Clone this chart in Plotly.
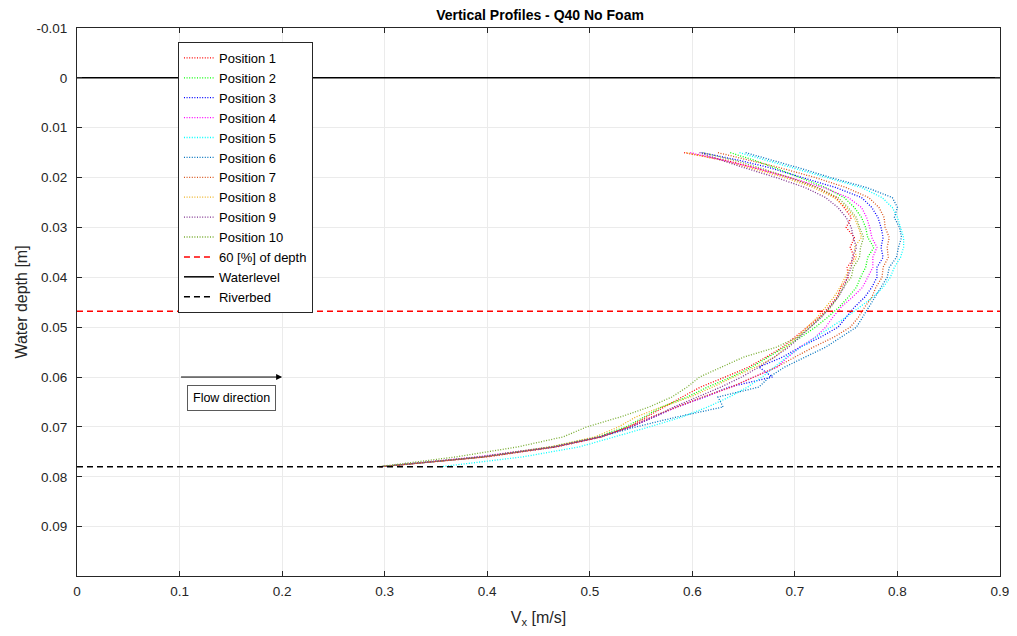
import plotly.graph_objects as go

# ---- data ----
depth = [0.015, 0.0165, 0.018, 0.020, 0.022, 0.024, 0.026, 0.028, 0.030, 0.032, 0.034,
         0.036, 0.038, 0.040, 0.042, 0.044, 0.046, 0.048, 0.050, 0.052, 0.054, 0.056,
         0.058, 0.060, 0.062, 0.064, 0.066, 0.068, 0.070, 0.072, 0.074, 0.076, 0.078]

pos1 = [0.592, 0.632, 0.660, 0.695, 0.722, 0.740, 0.748, 0.755, 0.750, 0.758, 0.754,
        0.758, 0.751, 0.752, 0.745, 0.741, 0.733, 0.724, 0.712, 0.700, 0.688, 0.672,
        0.655, 0.632, 0.608, 0.590, 0.573, 0.556, 0.538, 0.512, 0.468, 0.400, 0.295]
pos2 = [0.637, 0.660, 0.680, 0.705, 0.730, 0.748, 0.758, 0.765, 0.769, 0.771, 0.777,
        0.771, 0.769, 0.764, 0.760, 0.752, 0.743, 0.732, 0.720, 0.706, 0.690, 0.675,
        0.658, 0.638, 0.615, 0.595, 0.570, 0.553, 0.535, 0.508, 0.462, 0.395, 0.295]
pos3 = [0.609, 0.645, 0.675, 0.707, 0.740, 0.765, 0.775, 0.781, 0.784, 0.786, 0.784,
        0.786, 0.780, 0.780, 0.775, 0.768, 0.758, 0.750, 0.742, 0.725, 0.705, 0.688,
        0.665, 0.678, 0.636, 0.612, 0.585, 0.562, 0.540, 0.510, 0.465, 0.395, 0.295]
pos4 = [0.598, 0.630, 0.660, 0.695, 0.728, 0.752, 0.765, 0.770, 0.773, 0.775, 0.780,
        0.776, 0.776, 0.771, 0.766, 0.756, 0.745, 0.737, 0.730, 0.720, 0.705, 0.693,
        0.683, 0.660, 0.638, 0.612, 0.585, 0.562, 0.540, 0.510, 0.463, 0.390, 0.295]
pos5 = [0.646, 0.672, 0.698, 0.733, 0.765, 0.785, 0.795, 0.800, 0.803, 0.806, 0.806,
        0.803, 0.797, 0.793, 0.786, 0.776, 0.763, 0.750, 0.735, 0.720, 0.706, 0.692,
        0.680, 0.668, 0.654, 0.636, 0.615, 0.590, 0.558, 0.525, 0.490, 0.435, 0.354]
pos6 = [0.652, 0.678, 0.703, 0.735, 0.770, 0.795, 0.800, 0.797, 0.802, 0.804, 0.801,
        0.799, 0.792, 0.790, 0.784, 0.778, 0.772, 0.766, 0.760, 0.745, 0.730, 0.710,
        0.690, 0.675, 0.665, 0.625, 0.630, 0.585, 0.545, 0.510, 0.465, 0.395, 0.295]
pos7 = [0.625, 0.655, 0.685, 0.720, 0.750, 0.772, 0.782, 0.787, 0.788, 0.792, 0.790,
        0.791, 0.786, 0.785, 0.779, 0.775, 0.768, 0.762, 0.754, 0.738, 0.718, 0.700,
        0.682, 0.660, 0.638, 0.610, 0.585, 0.560, 0.538, 0.510, 0.465, 0.398, 0.295]
pos8 = [0.594, 0.628, 0.655, 0.690, 0.718, 0.738, 0.750, 0.758, 0.762, 0.765, 0.758,
        0.760, 0.754, 0.749, 0.744, 0.738, 0.730, 0.722, 0.712, 0.702, 0.692, 0.680,
        0.662, 0.640, 0.620, 0.598, 0.570, 0.545, 0.528, 0.505, 0.462, 0.395, 0.295]
pos9 = [0.607, 0.628, 0.650, 0.682, 0.710, 0.730, 0.742, 0.750, 0.755, 0.757, 0.760,
        0.756, 0.755, 0.751, 0.748, 0.742, 0.734, 0.726, 0.715, 0.705, 0.694, 0.680,
        0.665, 0.648, 0.628, 0.605, 0.582, 0.563, 0.540, 0.510, 0.465, 0.395, 0.295]
pos10 = [0.610, 0.640, 0.665, 0.695, 0.722, 0.742, 0.752, 0.760, 0.763, 0.767, 0.764,
         0.763, 0.757, 0.755, 0.747, 0.742, 0.735, 0.725, 0.715, 0.703, 0.682, 0.650,
         0.628, 0.607, 0.595, 0.580, 0.558, 0.530, 0.497, 0.474, 0.430, 0.370, 0.293]

series = [pos1, pos2, pos3, pos4, pos5, pos6, pos7, pos8, pos9, pos10]
names = ["Position %d" % (i + 1) for i in range(10)]
colors = ["#FF0000", "#00FF00", "#0000FF", "#FF00FF", "#00FFFF",
          "#0072BD", "#D95319", "#EDB120", "#7E2F8E", "#77AC30"]

x_line = [0, 0.9]
waterlevel = 0.0
riverbed = 0.078
sixty_pct = 0.6 * riverbed

x_ticks = [0, 0.1, 0.2, 0.3, 0.4, 0.5, 0.6, 0.7, 0.8, 0.9]
x_ticktext = ["0", "0.1", "0.2", "0.3", "0.4", "0.5", "0.6", "0.7", "0.8", "0.9"]
y_ticks = [-0.01, 0, 0.01, 0.02, 0.03, 0.04, 0.05, 0.06, 0.07, 0.08, 0.09]
y_ticktext = ["-0.01", "0", "0.01", "0.02", "0.03", "0.04", "0.05", "0.06", "0.07", "0.08", "0.09"]

flow_start = [0.1, 0.06]
flow_end = [0.2, 0.06]

# ---- figure ----
fig = go.Figure()
for s, n, c in zip(series, names, colors):
    fig.add_trace(go.Scatter(x=s, y=depth, mode="lines", name=n,
                             line=dict(color=c, width=1.3, dash="1px,1.6px")))

fig.add_trace(go.Scatter(x=x_line, y=[sixty_pct, sixty_pct], mode="lines",
                         name="60 [%] of depth",
                         line=dict(color="#FF0000", width=1.5, dash="6px,4px")))
fig.add_trace(go.Scatter(x=x_line, y=[waterlevel, waterlevel], mode="lines",
                         name="Waterlevel", line=dict(color="#000000", width=1.5)))
fig.add_trace(go.Scatter(x=x_line, y=[riverbed, riverbed], mode="lines",
                         name="Riverbed",
                         line=dict(color="#000000", width=1.5, dash="6px,4px")))

fig.add_annotation(x=flow_end[0], y=flow_end[1], ax=flow_start[0], ay=flow_start[1],
                   xref="x", yref="y", axref="x", ayref="y", text="",
                   showarrow=True, arrowhead=2, arrowsize=1.2, arrowwidth=1,
                   arrowcolor="#000000")
fig.add_annotation(x=0.151, y=0.0643, xref="x", yref="y", text="Flow direction",
                   showarrow=False, font=dict(family="Liberation Sans, Arial", size=12.5, color="#000000"),
                   bordercolor="#5a5a5a", borderwidth=1, borderpad=5, bgcolor="white")

axis_font = dict(family="Liberation Sans, Arial", size=13.5, color="#262626")
# the page body has an 8px margin, so the figure is sized to fit inside the window
fig.update_layout(
    width=1001, height=620,
    margin=dict(l=69, r=9, t=20, b=52, autoexpand=False),
    paper_bgcolor="white", plot_bgcolor="white",
    title=dict(text="<b>Vertical Profiles - Q40 No Foam</b>", x=0.5315, xanchor="center",
               y=0.9885, yanchor="middle", yref="container",
               font=dict(family="Liberation Sans, Arial", size=14, color="#000000")),
    font=axis_font,
    showlegend=True,
    legend=dict(x=0.1094, y=0.9745, xanchor="left", yanchor="top",
                bgcolor="white", bordercolor="#262626", borderwidth=1,
                font=dict(family="Liberation Sans, Arial", size=13, color="#000000"),
                itemwidth=30, tracegroupgap=0),
    xaxis=dict(range=[0, 0.9], tickvals=x_ticks, ticktext=x_ticktext, automargin=False,
               showgrid=True, gridcolor="#ebebeb", gridwidth=1,
               showline=True, linecolor="#262626", linewidth=1, mirror="allticks",
               ticks="inside", ticklen=5, tickcolor="#262626", zeroline=False,
               ticklabelstandoff=3, ticklabeloverflow="allow",
               title=dict(text="V<sub>x</sub> [m/s]", font=dict(size=16, color="#262626"), standoff=14),
               tickfont=axis_font),
    yaxis=dict(range=[0.0999, -0.01], tickvals=y_ticks, ticktext=y_ticktext, automargin=False,
               showgrid=True, gridcolor="#ebebeb", gridwidth=1,
               showline=True, linecolor="#262626", linewidth=1, mirror="allticks",
               ticks="inside", ticklen=5, tickcolor="#262626", zeroline=False,
               ticklabelstandoff=6, ticklabeloverflow="allow",
               title=dict(text="Water depth [m]", font=dict(size=16, color="#262626"), standoff=4),
               tickfont=axis_font),
)

fig.write_html("out.html")
